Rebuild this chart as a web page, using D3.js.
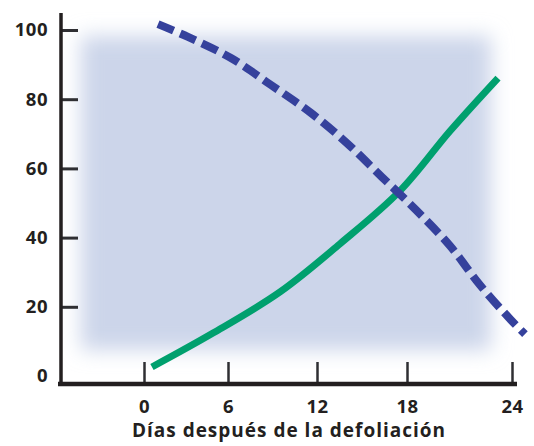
<!DOCTYPE html>
<html>
<head>
<meta charset="utf-8">
<script src="https://cdn.jsdelivr.net/npm/d3@7"></script>
<style>
  html, body { margin: 0; padding: 0; background: #fff; }
  svg { display: block; }
  .tick text { font-family: "Open Sans", sans-serif; font-weight: 700; font-size: 18.5px; letter-spacing: 0.5px; fill: #231f20; }
</style>
</head>
<body>
<svg id="chart" width="534" height="446"></svg>
<script>
// Days after defoliation and tick labels
const dayTicks = [0, 6, 12, 18, 24];
const valueTicks = [0, 20, 40, 60, 80, 100];

// Rising series (solid green)
const greenDays   = [0.57, 4.93, 9.51, 13.53, 17.53, 20.46, 23.2];
const greenValues = [2.6, 12.4, 24.3, 38.2, 53.5, 70.8, 86.1];

// Falling series (dashed blue)
const blueDays   = [1.0, 3.14, 6.2, 8.9, 11.6, 14.0, 16.33, 18.51, 20.46, 22.17, 23.94, 24.74];
const blueValues = [101.7, 98.0, 91.9, 84.1, 76.0, 67.3, 57.5, 48.0, 37.6, 26.3, 16.2, 12.1];

const xTitle = "Días después de la defoliación";

const svg = d3.select("#chart");

// Horizontal axis spacing of the printed figure is slightly uneven between ticks
const x = d3.scaleLinear().domain(dayTicks).range([144, 228, 317, 407, 512]);
const y = d3.scaleLinear().domain([0, 100]).range([376, 30]);

// Soft shaded backdrop
const defs = svg.append("defs");
defs.append("filter")
  .attr("id", "soft")
  .attr("x", "-20%").attr("y", "-20%").attr("width", "140%").attr("height", "140%")
  .append("feGaussianBlur").attr("stdDeviation", 10);

svg.append("rect")
  .attr("x", 81).attr("y", 36)
  .attr("width", 410).attr("height", 314)
  .attr("fill", "#ccd5ea")
  .attr("filter", "url(#soft)");

// Axes
const axisY = 384;
const axisX = 61;

const xAxis = svg.append("g")
  .attr("transform", `translate(0,${axisY})`)
  .call(d3.axisBottom(x).tickValues(dayTicks).tickSizeInner(-22).tickSizeOuter(0).tickPadding(16).tickFormat(d3.format("d")));
xAxis.select(".domain").remove();
xAxis.selectAll(".tick line").attr("stroke", "#2f2f33").attr("stroke-width", 2.5);

const yAxis = svg.append("g")
  .attr("transform", `translate(${axisX},0)`)
  .call(d3.axisLeft(y).tickValues(valueTicks).tickSizeInner(-17).tickSizeOuter(0).tickPadding(13).tickFormat(d3.format("d")));
yAxis.select(".domain").remove();
yAxis.selectAll(".tick line").attr("stroke", "#2f2f33").attr("stroke-width", 3);
yAxis.selectAll(".tick").filter(d => d === 0).select("line").remove();

svg.append("line")
  .attr("x1", axisX).attr("x2", axisX)
  .attr("y1", 13).attr("y2", axisY + 2)
  .attr("stroke", "#231f20").attr("stroke-width", 3.5);

svg.append("line")
  .attr("x1", 58).attr("x2", 517)
  .attr("y1", axisY).attr("y2", axisY)
  .attr("stroke", "#231f20").attr("stroke-width", 4.5);

svg.append("text")
  .attr("x", 289).attr("y", 437)
  .attr("text-anchor", "middle")
  .attr("font-family", "'Open Sans', sans-serif")
  .attr("font-weight", 700)
  .attr("font-size", 19)
  .attr("letter-spacing", "1px")
  .attr("fill", "#231f20")
  .text(xTitle);

// Series lines
const line = d3.line()
  .x(d => x(d[0]))
  .y(d => y(d[1]))
  .curve(d3.curveCatmullRom.alpha(0.5));

svg.append("path")
  .datum(d3.zip(greenDays, greenValues))
  .attr("d", line)
  .attr("fill", "none")
  .attr("stroke", "#00a06e")
  .attr("stroke-width", 7);

svg.append("path")
  .datum(d3.zip(blueDays, blueValues))
  .attr("d", line)
  .attr("fill", "none")
  .attr("stroke", "#35419c")
  .attr("stroke-width", 8)
  .attr("stroke-dasharray", "17,7");
</script>
</body>
</html>
